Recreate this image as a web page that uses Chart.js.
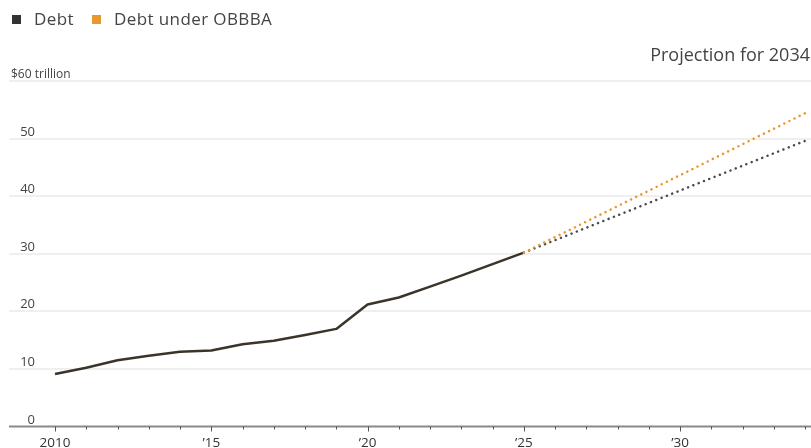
<!DOCTYPE html>
<html>
<head>
<meta charset="utf-8">
<script src="https://cdn.jsdelivr.net/npm/chart.js@4"></script>
<style>
  html, body { margin: 0; padding: 0; background: #fff; }
  #wrap { position: relative; width: 811px; height: 448px; font-family: "Open Sans", Lato, sans-serif; }
  #wrap canvas { position: absolute; left: 0; top: 0; }
  .key { position: absolute; top: 8px; font-size: 17px; letter-spacing: 0.4px; color: #444; line-height: 22px; white-space: nowrap; }
  .sw { display: inline-block; width: 9px; height: 9px; margin-right: 13px; vertical-align: 1px; }
  #proj { position: absolute; right: 1px; top: 42px; font-size: 18px; line-height: 24px; color: #444; white-space: nowrap; }
</style>
</head>
<body>
<div id="wrap">
  <canvas id="debtChart" width="811" height="448"></canvas>
  <div class="key" style="left:12px"><span class="sw" style="background:#333"></span>Debt</div>
  <div class="key" style="left:92px"><span class="sw" style="background:#e8982c"></span>Debt under OBBBA</div>
  <div id="proj">Projection for 2034</div>
</div>
<script>
// debt held by the public, trillions
var years = [2010, 2011, 2012, 2013, 2014, 2015, 2016, 2017, 2018, 2019, 2020, 2021, 2022, 2023, 2024, 2025];
var debt = [9.1, 10.2, 11.5, 12.3, 13.0, 13.2, 14.3, 14.9, 15.9, 16.95, 21.2, 22.4, 24.3, 26.2, 28.2, 30.2];

var projYears = [2025, 2034];
var projBase = [30.2, 49.6];
var projObbba = [30.2, 54.4];

var yTicks = [0, 10, 20, 30, 40, 50, 60];
var yTickLabels = ["0", "10", "20", "30", "40", "50", "$60 trillion"];
var xTicks = [2010, 2015, 2020, 2025, 2030];
var xTickLabels = ["2010", "\u201915", "\u201920", "\u201925", "\u201930"];

function pts(xs, ys) {
  return xs.map(function (x, i) { return { x: x, y: ys[i] }; });
}

var axesPlugin = {
  id: 'wsjAxes',
  beforeDatasetsDraw: function (chart) {
    var ctx = chart.ctx, ys = chart.scales.y;
    ctx.save();
    ctx.lineWidth = 2;
    ctx.strokeStyle = '#efefef';
    yTicks.forEach(function (v, i) {
      if (v === 0) return;
      var py = Math.round(ys.getPixelForValue(v));
      ctx.beginPath();
      ctx.moveTo(9, py);
      ctx.lineTo(811, py);
      ctx.stroke();
    });
    ctx.fillStyle = '#444';
    ctx.textBaseline = 'alphabetic';
    yTicks.forEach(function (v, i) {
      var py = ys.getPixelForValue(v);
      if (i === yTicks.length - 1) {
        ctx.font = '12px "Open Sans"';
        ctx.textAlign = 'left';
        ctx.fillText(yTickLabels[i], 11, py - 3);
      } else {
        ctx.font = '13px "Open Sans"';
        ctx.textAlign = 'right';
        ctx.fillText(yTickLabels[i], 35, py - 3);
      }
    });
    ctx.restore();
  },
  afterDatasetsDraw: function (chart) {
    var ctx = chart.ctx, xs = chart.scales.x, ys = chart.scales.y;
    var base = ys.getPixelForValue(0);
    ctx.save();
    ctx.strokeStyle = '#8a8a8a';
    ctx.lineWidth = 2;
    ctx.beginPath();
    ctx.moveTo(9, base);
    ctx.lineTo(811, base);
    ctx.stroke();
    ctx.lineWidth = 1;
    ctx.strokeStyle = '#555';
    for (var yr = 2010; yr <= 2034; yr++) {
      var px = Math.round(xs.getPixelForValue(yr)) + 0.5;
      var len = (yr % 5 === 0) ? 5 : 3;
      ctx.beginPath();
      ctx.moveTo(px, base);
      ctx.lineTo(px, base + len);
      ctx.stroke();
    }
    ctx.fillStyle = '#333';
    ctx.font = '13.5px "Open Sans"';
    ctx.textAlign = 'center';
    ctx.textBaseline = 'alphabetic';
    xTicks.forEach(function (v, i) {
      ctx.fillText(xTickLabels[i], xs.getPixelForValue(v), 447);
    });
    ctx.restore();
  }
};

new Chart(document.getElementById('debtChart'), {
  type: 'line',
  data: {
    datasets: [{
      label: 'Debt under OBBBA',
      data: pts(projYears, projObbba),
      borderColor: '#e8982c',
      borderWidth: 2.5,
      borderDash: [0.1, 5.6],
      borderCapStyle: 'round',
      pointRadius: 0,
      tension: 0
    }, {
      label: 'Debt projection',
      data: pts(projYears, projBase),
      borderColor: '#4a4a4a',
      borderWidth: 2.5,
      borderDash: [0.1, 5.6],
      borderCapStyle: 'round',
      pointRadius: 0,
      tension: 0
    }, {
      label: 'Debt',
      data: pts(years, debt),
      borderColor: '#3b3428',
      borderWidth: 2.5,
      borderJoinStyle: 'round',
      pointRadius: 0,
      tension: 0
    }]
  },
  options: {
    responsive: false,
    animation: false,
    layout: { padding: { left: 10, right: 0, top: 81, bottom: 21.5 } },
    plugins: { legend: { display: false }, tooltip: { enabled: false } },
    scales: {
      x: { type: 'linear', display: false, min: 2008.56, max: 2034.19 },
      y: { display: false, min: 0, max: 60 }
    }
  },
  plugins: [axesPlugin]
});
</script>
</body>
</html>
